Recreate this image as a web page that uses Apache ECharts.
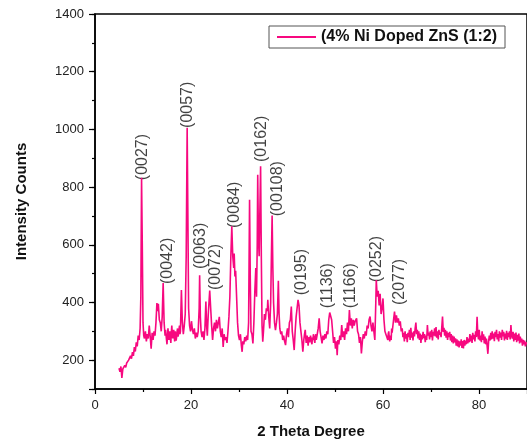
<!DOCTYPE html>
<html>
<head>
<meta charset="utf-8">
<title>XRD 4% Ni Doped ZnS</title>
<script src="https://cdn.jsdelivr.net/npm/echarts@6/dist/echarts.min.js"></script>
<style>
    html, body { margin: 0; padding: 0; background: #fff; }
    #main { width: 527px; height: 444px; }
</style>
</head>
<body>
<div id="main"></div>
<script>
/* 2θ / counts pairs */
var xrdPoints = [
    [5.0,172],[5.2,160],[5.4,178],[5.6,138],[5.8,170],[6.0,165],[6.2,182],[6.4,175],[6.6,190],[6.8,185],
    [7.0,200],[7.2,195],[7.4,215],[7.6,205],[7.8,228],[8.0,215],[8.2,245],[8.4,230],[8.6,262],[8.8,248],
    [9.0,285],[9.2,270],[9.4,310],[9.55,420],[9.7,832],[9.85,600],[10.0,330],[10.15,285],[10.3,275],[10.5,300],
    [10.7,265],[10.9,290],[11.1,275],[11.3,320],[11.5,282],[11.7,240],[11.9,295],[12.1,270],[12.3,300],[12.5,285],
    [12.7,330],[12.9,398],[13.05,370],[13.2,395],[13.4,340],[13.6,330],[13.8,300],[14.0,350],[14.2,467],[14.4,330],
    [14.6,285],[14.7,305],[14.8,300],[14.9,270],[15.0,255],[15.1,285],[15.2,310],[15.3,290],[15.4,270],[15.5,285],
    [15.6,300],[15.7,278],[15.8,260],[15.9,295],[16.0,320],[16.1,290],[16.2,275],[16.3,298],[16.4,305],[16.5,282],
    [16.6,265],[16.7,300],[16.8,290],[16.9,268],[17.0,280],[17.1,300],[17.2,310],[17.3,282],[17.4,290],[17.5,305],
    [17.6,320],[17.7,290],[17.8,300],[18.0,443],[18.2,330],[18.4,290],
    [18.6,320],[18.8,360],[19.0,560],[19.2,1006],[19.35,700],[19.5,380],[19.7,320],[19.9,300],[20.1,335],[20.3,305],
    [20.5,290],[20.7,310],[20.9,275],[21.1,295],[21.3,280],[21.5,300],[21.7,380],[21.8,494],[21.95,350],[22.1,300],
    [22.3,280],[22.5,300],[22.7,270],[22.9,310],[23.1,403],[23.25,320],[23.4,285],[23.6,360],[23.9,441],[24.1,380],
    [24.3,320],[24.5,270],[24.7,310],[24.9,330],[25.1,300],[25.3,340],[25.5,310],[25.7,330],[25.9,350],[26.1,300],
    [26.3,280],[26.5,310],[26.7,246],[26.9,290],[27.1,270],[27.3,280],[27.5,260],[27.7,300],[27.9,350],[28.1,420],
    [28.3,560],[28.5,664],[28.7,560],[28.9,520],[29.0,570],[29.15,490],[29.3,510],[29.5,420],[29.7,330],[29.9,285],
    [30.1,270],[30.3,290],[30.5,250],[30.65,229],[30.8,265],[31.0,255],[31.2,280],[31.4,265],[31.6,285],[31.8,270],
    [32.0,330],[32.2,756],[32.35,480],[32.5,300],[32.7,290],[32.9,258],[33.1,330],[33.3,440],[33.5,519],[33.65,420],
    [33.8,600],[33.9,843],[34.05,620],[34.2,560],[34.35,720],[34.5,872],[34.65,560],[34.8,320],[34.95,264],[35.1,300],
    [35.3,360],[35.5,340],[35.7,380],[35.9,370],[36.0,409],[36.2,350],[36.4,310],[36.6,400],[36.75,560],[36.9,701],
    [37.05,520],[37.2,400],[37.4,330],[37.6,304],[37.8,330],[38.0,360],[38.2,475],[38.35,360],[38.5,310],[38.7,290],
    [38.9,300],[39.1,270],[39.3,285],[39.5,265],[39.7,252],[39.9,290],[40.1,310],[40.3,280],[40.5,330],[40.7,340],
    [40.9,386],[41.1,300],[41.3,270],[41.5,235],[41.7,300],[41.9,350],[42.1,380],[42.3,409],[42.5,390],[42.7,330],
    [42.9,300],[43.1,270],[43.3,229],[43.5,270],[43.65,290],[43.8,305],[43.9,280],[44.0,260],[44.1,278],[44.2,285],
    [44.3,268],[44.4,250],[44.5,272],[44.6,280],[44.7,262],[44.8,265],[44.9,285],[45.0,275],[45.1,262],[45.2,255],
    [45.3,278],[45.4,270],[45.5,290],[45.6,285],[45.7,268],[45.8,260],[45.9,282],[46.0,290],[46.1,270],[46.2,275],
    [46.35,295],[46.5,310],[46.7,345],[46.9,300],
    [47.1,280],[47.3,258],[47.5,285],[47.7,270],[47.9,290],[48.1,275],[48.3,300],[48.5,290],[48.7,340],[48.9,365],
    [49.1,368],[49.3,340],[49.5,300],[49.7,260],[49.9,280],[50.1,240],[50.3,265],[50.45,217],[50.6,270],[50.8,255],
    [51.0,285],[51.2,270],[51.4,322],[51.6,280],[51.8,300],[52.0,270],[52.2,310],[52.4,290],[52.6,330],[52.8,300],
    [53.0,374],[53.2,320],[53.4,345],[53.6,310],[53.8,340],[54.0,320],[54.2,335],[54.5,345],[54.7,300],[54.9,290],
    [55.1,260],[55.3,280],[55.5,223],[55.7,265],[55.9,290],[56.1,275],[56.3,300],[56.5,285],[56.7,320],[56.9,310],
    [57.1,340],[57.3,351],[57.5,320],[57.7,300],[57.9,330],[58.1,300],[58.3,270],[58.5,400],[58.6,478],[58.8,420],
    [59.0,440],[59.2,390],[59.4,430],[59.6,360],[59.8,380],[60.0,414],[60.2,340],[60.4,300],[60.6,290],[60.8,280],
    [61.0,270],[61.1,292],[61.2,300],[61.3,278],[61.4,265],[61.5,285],[61.6,290],[61.7,270],[61.8,310],[61.9,295],
    [62.0,290],[62.2,340],[62.4,368],[62.6,330],[62.8,355],
    [63.0,330],[63.2,345],[63.4,320],[63.6,335],[63.8,300],
    [64.0,310],[64.15,280],[64.3,295],[64.45,265],[64.6,300],[64.75,275],[64.9,290],[65.05,262],[65.2,295],[65.35,280],
    [65.5,305],[65.65,270],[65.8,312],[65.95,278],[66.1,296],[66.25,268],[66.4,300],[66.55,282],[66.7,310],[66.85,330],
    [67.0,290],[67.15,305],[67.3,275],[67.45,300],[67.6,270],[67.75,292],[67.9,260],[68.05,288],[68.2,272],[68.35,298],
    [68.5,276],[68.65,290],[68.8,262],[68.95,285],[69.1,270],[69.25,322],[69.4,285],[69.55,296],[69.7,272],[69.85,300],
    [70.0,280],[70.15,305],[70.3,268],[70.45,298],[70.6,285],[70.75,310],[70.9,282],[71.05,315],[71.2,278],[71.35,300],
    [71.5,272],[71.65,305],[71.8,288],[71.95,296],[72.1,280],[72.25,315],[72.4,351],[72.55,298],[72.7,312],[72.85,285],
    [73.0,305],[73.15,278],[73.3,300],[73.45,270],[73.6,295],[73.75,280],[73.9,298],[74.05,268],[74.2,290],[74.35,262],
    [74.5,285],[74.65,258],[74.8,282],[74.95,262],[75.1,276],[75.25,250],[75.4,272],[75.55,248],[75.7,268],[75.85,244],
    [76.0,265],[76.15,250],[76.3,272],[76.45,242],[76.6,266],[76.75,241],[76.9,270],[77.05,250],[77.2,268],[77.35,255],
    [77.5,280],[77.65,258],[77.8,275],[77.95,262],[78.1,290],[78.25,265],[78.4,285],[78.55,260],[78.7,295],[78.85,272],
    [79.0,288],[79.15,265],[79.3,300],[79.45,280],[79.6,350],[79.75,290],[79.9,272],[80.05,305],[80.2,268],[80.35,285],
    [80.5,262],[80.65,300],[80.8,270],[80.95,290],[81.1,258],[81.25,282],[81.4,255],[81.55,275],[81.7,248],[81.85,222],
    [82.0,265],[82.15,285],[82.3,268],[82.45,295],[82.6,272],[82.75,300],[82.9,275],[83.05,292],[83.2,266],[83.35,298],
    [83.5,280],[83.65,305],[83.8,272],[83.95,290],[84.1,265],[84.25,300],[84.4,278],[84.55,296],[84.7,270],[84.85,305],
    [85.0,282],[85.15,298],[85.3,268],[85.45,292],[85.6,275],[85.75,302],[85.9,270],[86.05,295],[86.2,280],[86.35,300],
    [86.5,272],[86.65,322],[86.8,285],[86.95,275],[87.1,298],[87.25,265],[87.4,292],[87.55,270],[87.7,296],[87.85,262],
    [88.0,288],[88.15,268],[88.3,292],[88.45,258],[88.6,282],[88.75,262],[88.9,275],[89.05,250],[89.2,270],[89.35,255],
    [89.5,268],[89.65,248],[89.8,262],[90.0,255]
];

/* peak indices and where their text starts */
var peakNames = ['(0027)','(0042)','(0057)','(0063)','(0072)','(0084)','(0162)','(00108)','(0195)','(1136)','(1166)','(0252)','(2077)'];
var peakTheta = [9.92, 15.2, 19.35, 22.1, 25.1, 29.0, 34.65, 37.95, 43.0, 48.5, 53.25, 58.7, 63.45];
var peakCounts = [824, 464, 1005, 516, 443, 658, 887, 699, 425, 380, 380, 470, 391];

var majorTicksY = [100, 200, 400, 600, 800, 1000, 1200, 1400];
var seriesName = '(4% Ni Doped ZnS (1:2)';

(function () {
    'use strict';
    var font = '"Liberation Sans", Arial, sans-serif';
    var pink = '#f7087f';
    var chart = echarts.init(document.getElementById('main'));

    var peakData = peakNames.map(function (n, i) {
        return { name: n, value: [peakTheta[i], peakCounts[i]] };
    });

    chart.setOption({
        animation: false,
        backgroundColor: '#fff',
        textStyle: { fontFamily: font },
        grid: {
            left: 95, top: 14, right: -3, bottom: 55,
            show: true, borderColor: '#000', borderWidth: 1.5
        },
        legend: {
            left: 269, top: 26,
            padding: [3, 8, 3, 8],
            borderColor: '#555', borderWidth: 1,
            itemWidth: 39, itemHeight: 2,
            itemGap: 4,
            data: [{ name: seriesName, icon: 'rect' }],
            textStyle: { fontFamily: font, fontSize: 16, fontWeight: 'bold', color: '#111', lineHeight: 16 }
        },
        xAxis: {
            type: 'value', min: 0, max: 90, interval: 20,
            name: '2 Theta Degree', nameLocation: 'middle', nameGap: 35,
            nameTextStyle: { fontFamily: font, fontSize: 15, fontWeight: 'bold', color: '#111' },
            axisLine: { onZero: false, lineStyle: { color: '#000', width: 1.5 } },
            axisTick: { show: true, length: 5, lineStyle: { color: '#000', width: 1.2 } },
            minorTick: { show: true, splitNumber: 2, length: 3, lineStyle: { color: '#000', width: 1.2 } },
            axisLabel: { fontSize: 13, color: '#222', margin: 10, showMaxLabel: false },
            splitLine: { show: false }
        },
        yAxis: [{
            type: 'value', min: 100, max: 1400, interval: 100,
            name: 'Intensity Counts', nameLocation: 'middle', nameGap: 66,
            nameTextStyle: { fontFamily: font, fontSize: 15, fontWeight: 'bold', color: '#111' },
            axisLine: { show: true, onZero: false, lineStyle: { color: '#000', width: 1.5 } },
            axisTick: { show: true, length: 3, lineStyle: { color: '#000', width: 1.2 } },
            axisLabel: {
                fontSize: 13, color: '#222', margin: 11,
                formatter: function (v) { return v % 200 === 0 ? String(v) : ''; }
            },
            splitLine: { show: false }
        }, {
            type: 'value', min: 100, max: 1400, position: 'left',
            axisLine: { show: false },
            axisTick: { show: true, length: 6, customValues: majorTicksY, lineStyle: { color: '#000', width: 1.2 } },
            axisLabel: { show: false },
            splitLine: { show: false }
        }],
        series: [{
            name: seriesName,
            type: 'line',
            data: xrdPoints,
            symbol: 'none',
            color: pink,
            lineStyle: { color: pink, width: 1.6 },
            clip: true
        }, {
            type: 'scatter',
            data: peakData,
            symbolSize: 0,
            silent: true,
            label: {
                show: true,
                position: 'top',
                distance: 0,
                rotate: 90,
                align: 'left',
                verticalAlign: 'middle',
                formatter: '{b}',
                fontFamily: font,
                fontSize: 16,
                color: '#111'
            }
        }]
    });
})();
</script>
</body>
</html>
